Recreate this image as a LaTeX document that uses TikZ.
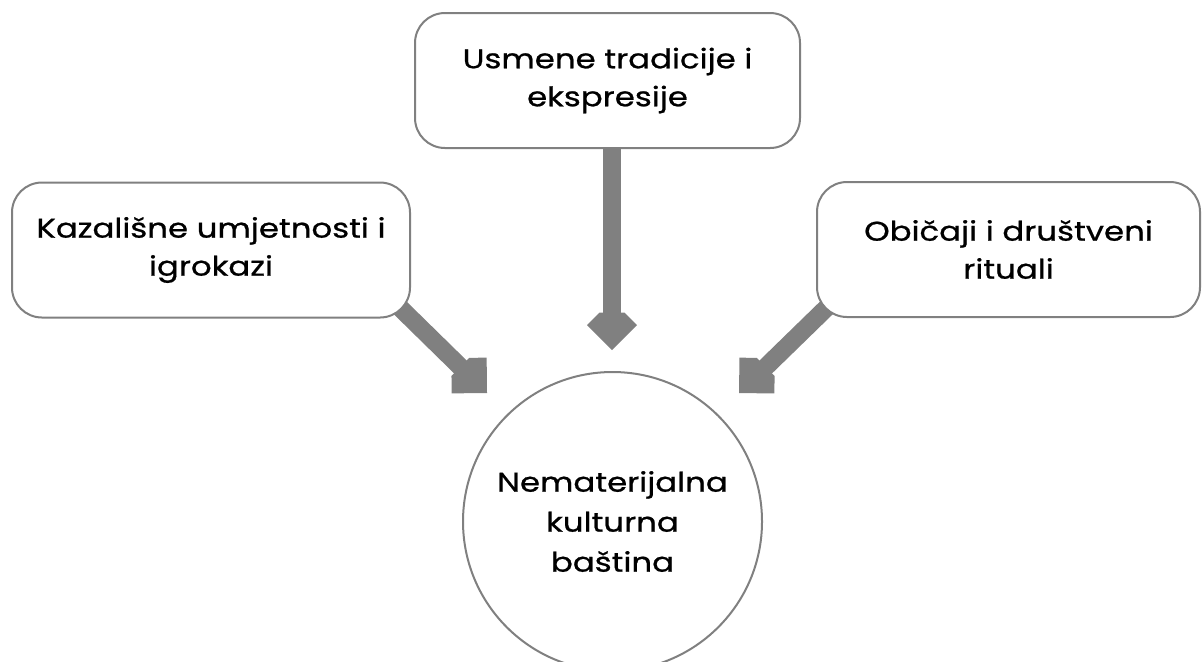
\documentclass[tikz,border=0pt]{standalone}
\usepackage{fontspec}
\setmainfont{Poppins}[FakeStretch=1.2, FakeBold=0.8]
\usetikzlibrary{arrows.meta,backgrounds}

\definecolor{linegray}{RGB}{128,128,128}

% square-ish head with the back corner cut off
\pgfdeclarearrow{
  name=CutDiamond,
  parameters={\the\pgfarrowlength,\the\pgfarrowwidth},
  setup code={
    \pgfarrowssettipend{\pgfarrowlength}
    \pgfarrowssetlineend{1pt}
    \pgfarrowssetvisualbackend{0pt}
    \pgfarrowssavethe\pgfarrowlength
    \pgfarrowssavethe\pgfarrowwidth
  },
  drawing code={
    \pgfpathmoveto{\pgfpoint{\pgfarrowlength}{0pt}}
    \pgfpathlineto{\pgfpoint{\pgfarrowlength-0.5\pgfarrowwidth}{0.5\pgfarrowwidth}}
    \pgfpathlineto{\pgfpoint{0pt}{\pgfarrowwidth-\pgfarrowlength}}
    \pgfpathlineto{\pgfpoint{0pt}{\pgfarrowlength-\pgfarrowwidth}}
    \pgfpathlineto{\pgfpoint{\pgfarrowlength-0.5\pgfarrowwidth}{-0.5\pgfarrowwidth}}
    \pgfpathclose
    \pgfusepathqfill
  },
  defaults={length=18.65pt, width=25pt}
}

\begin{document}
\begin{tikzpicture}[
    x=0.5pt, y=-0.5pt,
    box/.style={rectangle, draw=linegray, line width=1pt, fill=white, rounded corners=15pt, align=center, minimum height=67.5pt, font=\fontsize{13.5}{19}\selectfont},
    hub/.style={circle, draw=linegray, line width=1pt, fill=white, align=center, minimum size=149.5pt, inner sep=0pt, font=\fontsize{13.5}{20}\selectfont},
    feed/.style={draw=linegray, line width=9pt, -{CutDiamond}}
]
\useasboundingbox (0,0) rectangle (1202,661);

% Top and sides: the three domains
\node[box, minimum width=192.5pt] (oral) at (607.5,80.5) {Usmene tradicije i\\ekspresije};
\node[box, minimum width=199pt] (stage) at (211,250) {Kazališne umjetnosti i\\igrokazi};
\node[box, minimum width=191.5pt] (custom) at (1008.5,249.5) {Običaji i društveni\\rituali};

% Bottom: heritage
\node[hub] (heritage) at (612.5,521.5) {Nematerijalna\\kulturna\\baština};

% Arrow tips
\coordinate (tipU) at (612,350);
\coordinate (tipL) at (487,393);
\coordinate (tipR) at (739,393);

% Arrows
\begin{scope}[on background layer]
\draw[feed, shorten <=-4pt] (oral.south -| tipU) -- (tipU);
\draw[feed, shorten <=-10pt] (stage.south east) -- (tipL);
\draw[feed, shorten <=-10pt] (custom.south west) -- (tipR);
\end{scope}

\end{tikzpicture}
\end{document}
